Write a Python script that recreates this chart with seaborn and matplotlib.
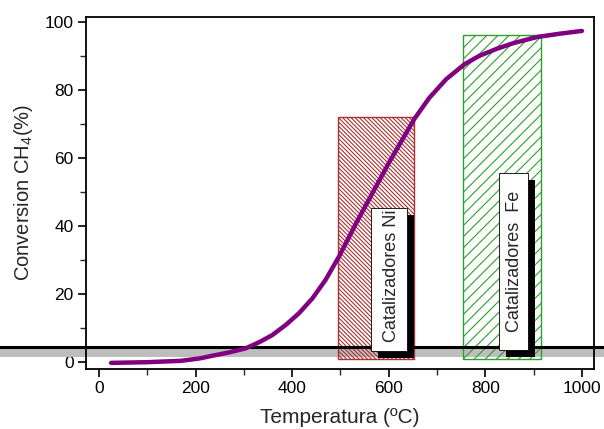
import matplotlib
matplotlib.use("Agg")
import matplotlib.pyplot as plt
import matplotlib.patheffects as pe
from matplotlib.patches import Rectangle
import seaborn as sns
import pandas as pd

# ---- data ----
temperature = [25, 100, 170, 208, 235, 270, 304, 332, 359, 387, 414, 442, 469, 497, 535,
               600, 653, 684, 719, 757, 788, 823, 858, 907, 955, 1000]
conversion = [-0.3, -0.1, 0.3, 1.0, 1.8, 2.8, 4.0, 5.8, 7.9, 10.9, 14.3, 18.7, 24.1, 31.0, 41.5,
              58.5, 71.5, 77.7, 83.2, 87.6, 90.1, 92.1, 93.8, 95.6, 96.6, 97.4]

ni_range = [495, 652]      # x span of Ni region
ni_top = 72
fe_range = [753, 915]      # x span of Fe region
fe_top = 96.2
region_bottom = 0.9

label_ni = "Catalizadores Ni"
label_fe = "Catalizadores  Fe"
ni_label_pos = (606, 25.3)
fe_label_pos = (860, 29.7)
ni_box = (563, 637, 3.2, 45.3)   # x0, x1, y0, y1
fe_box = (829, 889, 3.5, 55.6)

hline_y = 4.4
band_range = [1.5, 3.8]

xticks = [0, 200, 400, 600, 800, 1000]
yticks = [0, 20, 40, 60, 80, 100]

sns.set_style("ticks")
plt.rcParams['font.family'] = ['Liberation Sans', 'DejaVu Sans']
plt.rcParams['mathtext.fontset'] = 'custom'
plt.rcParams['mathtext.rm'] = 'Liberation Sans'
plt.rcParams['mathtext.it'] = 'Liberation Sans:italic'
plt.rcParams['hatch.linewidth'] = 0.8

fig = plt.figure(figsize=(6.04, 4.29), dpi=100)
ax = fig.add_axes([0.1424, 0.1399, 0.841, 0.8205])

df = pd.DataFrame({"T": temperature, "C": conversion})

# gray band and black line across whole figure width
band = ax.axhspan(band_range[0], band_range[1], xmin=-0.5, xmax=1.5,
                  color='#bdbdbd', lw=0, zorder=1)
band.set_clip_on(False)

# hatched regions
ax.add_patch(Rectangle((ni_range[0], region_bottom), ni_range[1] - ni_range[0],
                       ni_top - region_bottom, facecolor='none',
                       edgecolor='#a83232', hatch='\\' * 8, lw=1.0, zorder=2))
ax.add_patch(Rectangle((fe_range[0], region_bottom), fe_range[1] - fe_range[0],
                       fe_top - region_bottom, facecolor='none',
                       edgecolor='#2ca02c', hatch='///', lw=1.0, zorder=2))

ln = ax.axhline(hline_y, xmin=-0.5, xmax=1.5, color='black', lw=2.2, zorder=3)
ln.set_clip_on(False)

sns.lineplot(data=df, x="T", y="C", ax=ax, color='#800080', lw=3.2, zorder=4)

for box, txt, pos in [(ni_box, label_ni, ni_label_pos), (fe_box, label_fe, fe_label_pos)]:
    r = Rectangle((box[0], box[2]), box[1] - box[0], box[3] - box[2],
                  facecolor='white', edgecolor='black', lw=0.6, zorder=5)
    r.set_path_effects([pe.SimplePatchShadow(offset=(5, -5), shadow_rgbFace='black',
                                             alpha=1.0), pe.Normal()])
    ax.add_patch(r)
    ax.text(pos[0], pos[1], txt, rotation=90, ha='center', va='center',
            fontsize=13, zorder=6)

ax.set_xlim(-27, 1025)
ax.set_ylim(-2.1, 101.5)
ax.set_xticks(xticks)
ax.set_yticks(yticks)
ax.set_xticks(range(100, 1000, 200), minor=True)
ax.set_yticks(range(10, 100, 20), minor=True)
ax.tick_params(which='major', direction='out', length=6, width=1.2, pad=3,
               labelsize=12.5, colors='black', top=False, right=False)
ax.tick_params(which='minor', direction='out', length=4, width=1.0,
               top=False, right=False)
for s in ax.spines.values():
    s.set_visible(True)
    s.set_linewidth(1.3)
    s.set_color('black')

ax.set_xlabel("Temperatura (ºC)", fontsize=15, labelpad=8)
ax.set_ylabel("Conversion CH$_4$(%)", fontsize=14.5, labelpad=7)

fig.savefig("out.png", dpi=100)
